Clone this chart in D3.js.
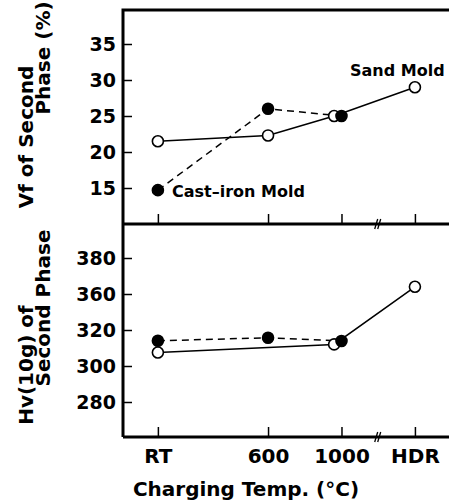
<!DOCTYPE html>
<html>
<head>
<meta charset="utf-8">
<script src="https://cdn.jsdelivr.net/npm/d3@7"></script>
<style>
  html, body { margin: 0; padding: 0; background: #fff; }
  svg { display: block; font-family: "DejaVu Sans", sans-serif; font-weight: bold; }
</style>
</head>
<body>
<svg id="chart" width="449" height="502"></svg>
<script>
// x positions are charging temperatures (RT drawn at 0, HDR drawn past the break)
const xCategories = ['RT', '600', '1000', 'HDR'];
const xTemps = [0, 600, 1000, 1400];

// upper panel: volume fraction of second phase (%)
const sandTempVf = [0, 600, 960, 1400];
const sandVf = [21.5, 22.3, 25, 29];
const castTempVf = [0, 600, 1000];
const castVf = [14.7, 26, 25];
const vfTicks = [15, 20, 25, 30, 35];

// lower panel: Hv(10g) of second phase
const sandTempHv = [0, 960, 1400];
const sandHv = [307.5, 312, 364];
const castTempHv = [0, 600, 1000];
const castHv = [314, 315.7, 313.9];
const hvTicks = [280, 300, 320, 360, 380];
const hvStops = [260, 280, 300, 320, 360, 380, 400];

const plotLeft = 123, plotTop = 10, plotMid = 224, plotBottom = 437, plotRight = 470;

const svg = d3.select('#chart');

const x = d3.scaleLinear().domain([-190, 1700]).range([plotLeft, plotRight]);
const yVf = d3.scaleLinear().domain([10, 40]).range([plotMid, plotTop - 2]);
const yHv = d3.scaleLinear().domain(hvStops).range(hvStops.map((_, i) => plotBottom + 1 - i * 36));

// y axes, ticks pointing into the plot
function drawYAxis(scale, ticks) {
  const ax = svg.append('g')
    .attr('transform', `translate(${plotLeft},0)`)
    .call(d3.axisLeft(scale).tickValues(ticks).tickSize(-9).tickPadding(7).tickFormat(d3.format('d')));
  ax.select('.domain').remove();
  ax.selectAll('line').attr('stroke', '#000').attr('stroke-width', 1.5);
  ax.selectAll('text').attr('font-size', 19).attr('font-weight', 'bold')
    .attr('font-family', '"DejaVu Sans", sans-serif').attr('fill', '#000');
}
drawYAxis(yVf, vfTicks);
drawYAxis(yHv, hvTicks);

// x ticks on the middle line and bottom axis
function drawXTicks(y0, withLabels) {
  const ax = svg.append('g')
    .attr('transform', `translate(0,${y0})`)
    .call(d3.axisBottom(x).tickValues(xTemps).tickSize(-10).tickPadding(12)
      .tickFormat((d, i) => xCategories[i]));
  ax.select('.domain').remove();
  ax.selectAll('line').attr('stroke', '#000').attr('stroke-width', 1.5);
  if (withLabels) {
    ax.selectAll('text').attr('font-size', 20).attr('font-weight', 'bold')
      .attr('font-family', '"DejaVu Sans", sans-serif').attr('fill', '#000');
  } else {
    ax.selectAll('text').remove();
  }
}
drawXTicks(plotMid, false);
drawXTicks(plotBottom, true);

// frame
const frame = svg.append('g').attr('stroke', '#000').attr('stroke-width', 3).attr('fill', 'none');
frame.append('path').attr('d', `M${plotLeft},${plotBottom}V${plotTop}H${plotRight}`);
frame.append('line').attr('x1', plotLeft).attr('x2', plotRight).attr('y1', plotMid).attr('y2', plotMid);
frame.append('line').attr('x1', plotLeft).attr('x2', plotRight).attr('y1', plotBottom).attr('y2', plotBottom);

// axis break marks
[plotMid, plotBottom].forEach((yb) => {
  const xb = x(1200);
  [-1.5, 1.5].forEach((o) => {
    svg.append('line')
      .attr('x1', xb + o - 2).attr('y1', yb + 5)
      .attr('x2', xb + o + 1).attr('y2', yb - 5)
      .attr('stroke', '#000').attr('stroke-width', 1.3);
  });
});

// series
function drawSeries(temps, vals, yScale, dashed) {
  const pts = temps.map((t, i) => [x(t), yScale(vals[i])]);
  svg.append('path')
    .attr('d', d3.line()(pts))
    .attr('fill', 'none')
    .attr('stroke', '#000')
    .attr('stroke-width', 1.5)
    .attr('stroke-dasharray', dashed ? '7,5' : null);
  return pts;
}

const sandVfPts = drawSeries(sandTempVf, sandVf, yVf, false);
const castVfPts = drawSeries(castTempVf, castVf, yVf, true);
const sandHvPts = drawSeries(sandTempHv, sandHv, yHv, false);
const castHvPts = drawSeries(castTempHv, castHv, yHv, true);

function drawMarkers(pts, filled) {
  svg.append('g').selectAll('circle').data(pts).join('circle')
    .attr('cx', (d) => d[0]).attr('cy', (d) => d[1]).attr('r', 5.5)
    .attr('fill', filled ? '#000' : '#fff')
    .attr('stroke', '#000').attr('stroke-width', 1.6);
}
drawMarkers(sandVfPts, false);
drawMarkers(castVfPts, true);
drawMarkers(sandHvPts, false);
drawMarkers(castHvPts, true);

// series labels
svg.append('text').attr('x', 350).attr('y', 76).attr('font-size', 16).text('Sand Mold');
svg.append('text').attr('x', 172).attr('y', 197).attr('font-size', 16).text('Cast–iron Mold');

// axis titles
svg.append('text').attr('x', 246).attr('y', 496).attr('text-anchor', 'middle')
  .attr('font-size', 20).text('Charging Temp. (°C)');

function yTitle(txt, cx, cy) {
  svg.append('text')
    .attr('transform', `translate(${cx},${cy}) rotate(-90)`)
    .attr('text-anchor', 'middle')
    .attr('font-size', 20)
    .text(txt);
}
yTitle('Vf of Second', 33, 137);
yTitle('Phase (%)', 50, 58);
yTitle('Hv(10g) of', 33, 365);
yTitle('Second Phase', 50, 308);
</script>
</body>
</html>
